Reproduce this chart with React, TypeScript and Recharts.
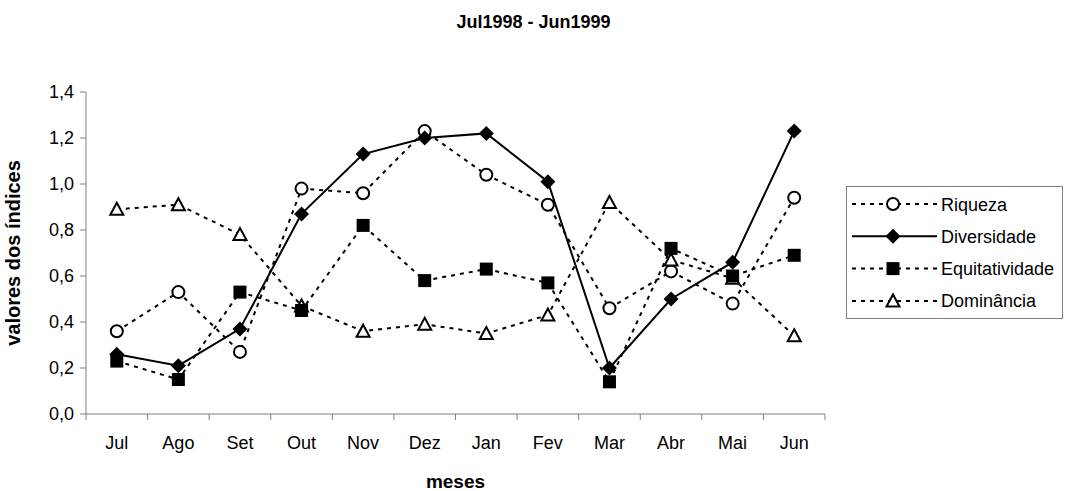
import { Line, LineChart, XAxis, YAxis } from "recharts"

const months = ["Jul", "Ago", "Set", "Out", "Nov", "Dez", "Jan", "Fev", "Mar", "Abr", "Mai", "Jun"]
const riqueza = [0.36, 0.53, 0.27, 0.98, 0.96, 1.23, 1.04, 0.91, 0.46, 0.62, 0.48, 0.94]
const diversidade = [0.26, 0.21, 0.37, 0.87, 1.13, 1.2, 1.22, 1.01, 0.2, 0.5, 0.66, 1.23]
const equitatividade = [0.23, 0.15, 0.53, 0.45, 0.82, 0.58, 0.63, 0.57, 0.14, 0.72, 0.6, 0.69]
const dominancia = [0.89, 0.91, 0.78, 0.47, 0.36, 0.39, 0.35, 0.43, 0.92, 0.67, 0.59, 0.34]
const yTicks = [0, 0.2, 0.4, 0.6, 0.8, 1.0, 1.2, 1.4]

const data = months.map((m, i) => ({
  mes: m,
  riqueza: riqueza[i],
  diversidade: diversidade[i],
  equitatividade: equitatividade[i],
  dominancia: dominancia[i],
}))

const W = 1067
const H = 491
const margin = { top: 92, right: 242, bottom: 0, left: 0 }
const yAxisW = 86
const step = (W - margin.left - margin.right - yAxisW) / months.length
const font = "'Liberation Sans', Arial, sans-serif"
const axisColor = "#808080"
const dash = "4 5"

// marcadores
function Circle({ cx, cy }: any) {
  if (cx == null || cy == null) return null
  return <circle cx={cx} cy={cy} r={6} fill="#fff" stroke="#000" strokeWidth={2} />
}
function Diamond({ cx, cy }: any) {
  if (cx == null || cy == null) return null
  const s = 7.5
  return <polygon points={`${cx},${cy - s} ${cx + s},${cy} ${cx},${cy + s} ${cx - s},${cy}`} fill="#000" />
}
function Square({ cx, cy }: any) {
  if (cx == null || cy == null) return null
  const s = 6.5
  return <rect x={cx - s} y={cy - s} width={2 * s} height={2 * s} fill="#000" />
}
function Triangle({ cx, cy }: any) {
  if (cx == null || cy == null) return null
  const s = 6.5
  return (
    <polygon
      points={`${cx},${cy - s} ${cx + s},${cy + s - 1} ${cx - s},${cy + s - 1}`}
      fill="#fff"
      stroke="#000"
      strokeWidth={2}
    />
  )
}

function MonthTick({ x, y, payload, index }: any) {
  const left = x - step / 2
  const last = index === months.length - 1
  return (
    <g>
      <line x1={left} y1={y} x2={left} y2={y + 6} stroke={axisColor} />
      {last && <line x1={x + step / 2} y1={y} x2={x + step / 2} y2={y + 6} stroke={axisColor} />}
      <text x={x} y={y + 35} textAnchor="middle" fontSize={18} fill="#000" fontFamily={font}>
        {payload.value}
      </text>
    </g>
  )
}

const legendItems = [
  { name: "Riqueza", solid: false, Marker: Circle },
  { name: "Diversidade", solid: true, Marker: Diamond },
  { name: "Equitatividade", solid: false, Marker: Square },
  { name: "Dominância", solid: false, Marker: Triangle },
]

function Legend() {
  return (
    <svg
      width={218}
      height={134}
      style={{ position: "absolute", left: 846, top: 186 }}
    >
      <rect x={0.5} y={0.5} width={216} height={132} fill="#fff" stroke={axisColor} />
      {legendItems.map((it, i) => {
        const cy = 18 + i * 32.3
        return (
          <g key={it.name}>
            <line
              x1={6}
              y1={cy}
              x2={91}
              y2={cy}
              stroke="#000"
              strokeWidth={2}
              strokeDasharray={it.solid ? undefined : dash}
            />
            <it.Marker cx={47} cy={cy} />
            <text x={95} y={cy + 6.5} fontSize={18} fontFamily={font} fill="#000">
              {it.name}
            </text>
          </g>
        )
      })}
    </svg>
  )
}

export default function App() {
  return (
    <div style={{ position: "absolute", left: 0, top: 0, width: W, height: H, background: "#fff", fontFamily: font }}>
      <div
        style={{
          position: "absolute",
          top: 12,
          left: 0,
          width: W,
          textAlign: "center",
          fontWeight: "bold",
          fontSize: 18,
          color: "#000",
        }}
      >
        Jul1998 - Jun1999
      </div>
      <LineChart width={W} height={H} data={data} margin={margin}>
        <XAxis
          dataKey="mes"
          scale="band"
          height={77}
          stroke={axisColor}
          tickLine={false}
          tickSize={0}
          tickMargin={0}
          interval={0}
          tick={<MonthTick />}
          label={{
            content: ({ viewBox }: any) => (
              <text
                x={viewBox.x + viewBox.width / 2}
                y={viewBox.y + 74}
                textAnchor="middle"
                fontWeight="bold"
                fontSize={19}
                fontFamily={font}
                fill="#000"
              >
                meses
              </text>
            ),
          }}
        />
        <YAxis
          width={yAxisW}
          domain={[0, 1.4]}
          ticks={yTicks}
          interval={0}
          stroke={axisColor}
          tickSize={6}
          tickMargin={6}
          tick={{ fill: "#000", fontSize: 18, fontFamily: font }}
          tickFormatter={(v: number) => v.toFixed(1).replace(".", ",")}
          label={{
            content: ({ viewBox }: any) => {
              const x = viewBox.x + 20
              const y = viewBox.y + viewBox.height / 2
              return (
                <text
                  x={x}
                  y={y}
                  transform={`rotate(-90 ${x} ${y})`}
                  textAnchor="middle"
                  fontWeight="bold"
                  fontSize={20}
                  fontFamily={font}
                  fill="#000"
                >
                  valores dos índices
                </text>
              )
            },
          }}
        />
        <Line
          dataKey="riqueza"
          stroke="#000"
          strokeWidth={2}
          strokeDasharray={dash}
          dot={<Circle />}
          activeDot={false}
          isAnimationActive={false}
        />
        <Line
          dataKey="dominancia"
          stroke="#000"
          strokeWidth={2}
          strokeDasharray={dash}
          dot={<Triangle />}
          activeDot={false}
          isAnimationActive={false}
        />
        <Line
          dataKey="equitatividade"
          stroke="#000"
          strokeWidth={2}
          strokeDasharray={dash}
          dot={<Square />}
          activeDot={false}
          isAnimationActive={false}
        />
        <Line
          dataKey="diversidade"
          stroke="#000"
          strokeWidth={2}
          dot={<Diamond />}
          activeDot={false}
          isAnimationActive={false}
        />
      </LineChart>
      <Legend />
    </div>
  )
}
